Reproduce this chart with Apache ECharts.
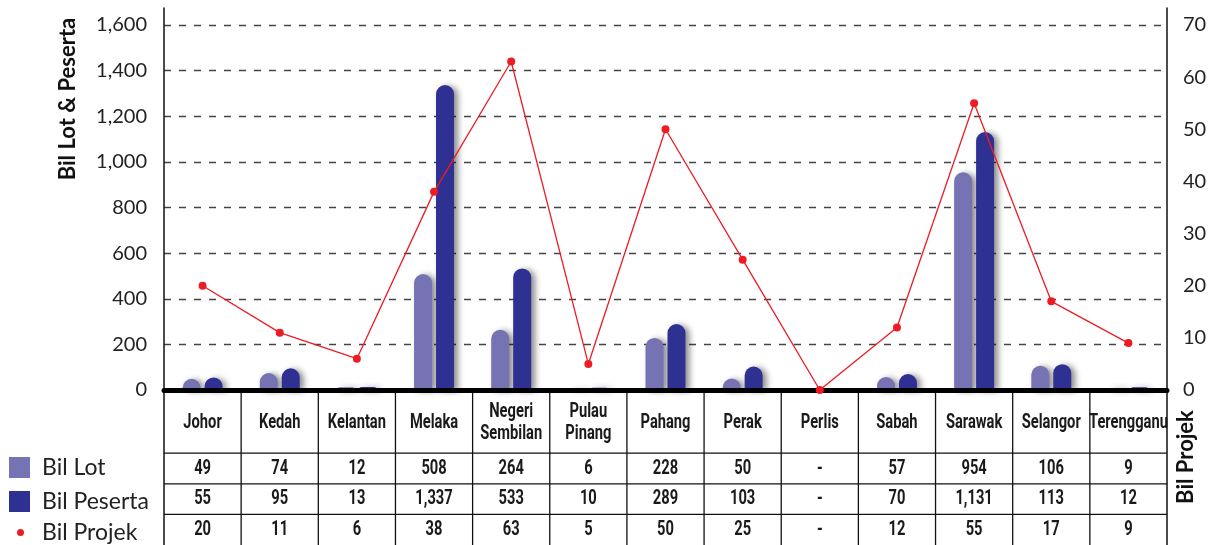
<!DOCTYPE html>
<html>
<head>
<meta charset="utf-8">
<script src="https://cdn.jsdelivr.net/npm/echarts@6/dist/echarts.min.js"></script>
<style>
  html, body { margin: 0; padding: 0; background: #ffffff; }
  #chart { width: 1211px; height: 545px; }
</style>
</head>
<body>
<div id="chart"></div>
<script>
// Project summary by state: lots, participants and projects
const states = ['Johor', 'Kedah', 'Kelantan', 'Melaka', 'Negeri\nSembilan', 'Pulau\nPinang',
  'Pahang', 'Perak', 'Perlis', 'Sabah', 'Sarawak', 'Selangor', 'Terengganu'];
const bilLot     = [49, 74, 12, 508, 264, 6, 228, 50, 0, 57, 954, 106, 9];
const bilPeserta = [55, 95, 13, 1337, 533, 10, 289, 103, 0, 70, 1131, 113, 12];
const bilProjek  = [20, 11, 6, 38, 63, 5, 50, 25, 0, 12, 55, 17, 9];
const seriesNames = ['Bil Lot', 'Bil Peserta', 'Bil Projek'];
const leftAxisTicks  = { min: 0, max: 1600, interval: 200 };
const rightAxisTicks = { min: 0, max: 70, interval: 10 };

const COLOR_LOT = '#7673B4';
const COLOR_PESERTA = '#2E3192';
const COLOR_PROJEK = '#ED1C24';
const LABEL_FONT = 'Lato, "Noto Sans", sans-serif';
const TABLE_FONT = 'Roboto, "Noto Sans", sans-serif';

const fmt = v => (v === 0 ? '-' : v.toLocaleString('en-US'));
const tableRows = [bilLot, bilPeserta, bilProjek];

const chart = echarts.init(document.getElementById('chart'), null, { renderer: 'canvas' });

const barShadow = {
  shadowColor: 'rgba(0,0,0,0.45)',
  shadowBlur: 6,
  shadowOffsetX: 4,
  shadowOffsetY: 1
};

const frameLine = { show: true, lineStyle: { color: '#111', width: 1.5 } };

const option = {
  backgroundColor: '#ffffff',
  animation: false,
  grid: [
    // main plot
    { left: 164, right: 44, top: 25, height: 365 },
    // data table under the plot
    { left: 164, right: 44, top: 392, height: 153 },
    // outer frame lines running from the top of the plot to the bottom of the table
    { left: 164, right: 44, top: 8, bottom: 0 }
  ],
  xAxis: [
    {
      gridIndex: 0, type: 'category', data: states, z: 10,
      axisLine: { show: true, lineStyle: { color: '#000', width: 5 } },
      axisTick: { show: false }, axisLabel: { show: false }, splitLine: { show: false }
    },
    { gridIndex: 1, type: 'category', data: states, show: false },
    { gridIndex: 2, type: 'value', show: false }
  ],
  yAxis: [
    {
      gridIndex: 0, type: 'value', position: 'left',
      min: leftAxisTicks.min, max: leftAxisTicks.max, interval: leftAxisTicks.interval,
      axisLine: { show: false }, axisTick: { show: false },
      axisLabel: {
        color: '#222', fontSize: 20, fontFamily: LABEL_FONT, margin: 17,
        padding: [0, 0, 10, 0],
        formatter: v => v.toLocaleString('en-US')
      },
      splitLine: { show: true, lineStyle: { color: '#444', width: 1.3, type: [7, 8] } }
    },
    {
      gridIndex: 0, type: 'value', position: 'right',
      min: rightAxisTicks.min, max: rightAxisTicks.max, interval: rightAxisTicks.interval,
      axisLine: { show: false }, axisTick: { show: false },
      axisLabel: {
        color: '#222', fontSize: 20, fontFamily: LABEL_FONT, margin: 16,
        padding: [0, 0, 6, 0]
      },
      splitLine: { show: false }
    },
    { gridIndex: 1, type: 'value', min: 0, max: 5, inverse: true, show: false },
    {
      gridIndex: 2, type: 'value', position: 'left', min: 0, max: 1,
      axisLine: frameLine, axisTick: { show: false }, axisLabel: { show: false }, splitLine: { show: false }
    },
    {
      gridIndex: 2, type: 'value', position: 'right', min: 0, max: 1,
      axisLine: frameLine, axisTick: { show: false }, axisLabel: { show: false }, splitLine: { show: false }
    }
  ],
  legend: [
    {
      data: [seriesNames[0], seriesNames[1]],
      orient: 'vertical', left: 9, top: 456, padding: 0,
      icon: 'rect', itemWidth: 21, itemHeight: 21, itemGap: 11,
      itemStyle: { shadowBlur: 0, shadowOffsetX: 0, shadowOffsetY: 0, borderRadius: 0 },
      textStyle: { color: '#222', fontSize: 23, lineHeight: 21, fontFamily: LABEL_FONT, padding: [0, 0, 0, 7] },
      selectedMode: false
    },
    {
      data: [seriesNames[2]],
      orient: 'vertical', left: 17, top: 521, padding: 0,
      icon: 'circle', itemWidth: 7, itemHeight: 7,
      textStyle: { color: '#222', fontSize: 23, lineHeight: 21, fontFamily: LABEL_FONT, padding: [0, 0, 0, 13] },
      selectedMode: false
    }
  ],
  graphic: [
    {
      type: 'text', x: 68, y: 99, rotation: Math.PI / 2,
      style: {
        text: 'Bil Lot & Peserta', font: `bold 22px ${LABEL_FONT}`,
        fill: '#111', align: 'center', verticalAlign: 'middle'
      }
    },
    {
      type: 'text', x: 1186, y: 457, rotation: Math.PI / 2,
      style: {
        text: 'Bil Projek', font: `bold 22px ${LABEL_FONT}`,
        fill: '#111', align: 'center', verticalAlign: 'middle'
      }
    }
  ],
  series: [
    {
      name: seriesNames[0], type: 'bar', xAxisIndex: 0, yAxisIndex: 0,
      data: bilLot, barWidth: 18, barGap: '22%',
      itemStyle: Object.assign({ color: COLOR_LOT, borderRadius: [9, 9, 0, 0] }, barShadow)
    },
    {
      name: seriesNames[1], type: 'bar', xAxisIndex: 0, yAxisIndex: 0,
      data: bilPeserta, barWidth: 18, barGap: '22%',
      itemStyle: Object.assign({ color: COLOR_PESERTA, borderRadius: [9, 9, 0, 0] }, barShadow)
    },
    {
      name: seriesNames[2], type: 'line', xAxisIndex: 0, yAxisIndex: 1, z: 12,
      data: bilProjek, symbol: 'circle', symbolSize: 8,
      lineStyle: { color: COLOR_PROJEK, width: 1.3 },
      itemStyle: { color: COLOR_PROJEK }
    },
    {
      // data table: state names and the three value rows
      type: 'custom', xAxisIndex: 1, yAxisIndex: 2,
      data: states.map((s, i) => [i]),
      encode: { x: 0 },
      renderItem: (params, api) => {
        const i = api.value(0);
        const cx = api.coord([i, 0])[0];
        const bw = api.size([1, 0])[0];
        const x0 = cx - bw / 2, x1 = cx + bw / 2;
        const yAt = r => api.coord([i, r])[1];
        const lineStyle = { stroke: '#111', lineWidth: 1.3 };
        const textStyle = {
          fill: '#1a1a1a', fontSize: 21, fontWeight: 'bold', fontFamily: TABLE_FONT,
          align: 'center', verticalAlign: 'middle', lineHeight: 22
        };
        const children = [];
        if (i > 0) {
          children.push({ type: 'line', shape: { x1: x0, y1: yAt(0), x2: x0, y2: yAt(5) }, style: lineStyle });
        }
        [2, 3, 4].forEach(r => children.push({
          type: 'line', shape: { x1: x0, y1: yAt(r), x2: x1, y2: yAt(r) }, style: lineStyle
        }));
        // condensed lettering for the table cells
        children.push({
          type: 'text', x: cx, y: (yAt(0) + yAt(2)) / 2, scaleX: 0.7,
          style: Object.assign({ text: states[i] }, textStyle)
        });
        tableRows.forEach((arr, k) => children.push({
          type: 'text', x: cx, y: (yAt(2 + k) + yAt(3 + k)) / 2, scaleX: 0.7,
          style: Object.assign({ text: fmt(arr[i]) }, textStyle)
        }));
        return { type: 'group', children };
      }
    }
  ]
};

chart.setOption(option);
</script>
</body>
</html>
